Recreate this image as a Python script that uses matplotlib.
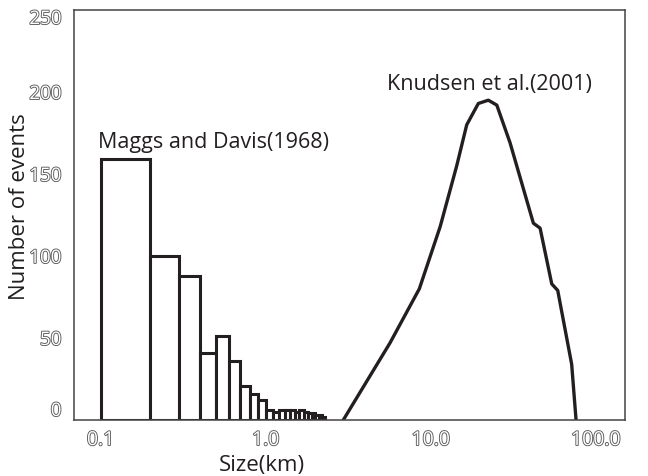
import numpy as np
import matplotlib.pyplot as plt
import matplotlib.patheffects as pe

# Maggs and Davis (1968) histogram: bin edges (km) and counts
bin_edges = [0.1, 0.2, 0.3, 0.4, 0.5, 0.6, 0.7, 0.8, 0.9, 1.0,
             1.1, 1.2, 1.3, 1.4, 1.5, 1.6, 1.7, 1.8, 1.9, 2.0, 2.1, 2.2, 2.3]
counts = [159, 100, 88, 41, 51, 36, 21, 16, 12,
          6, 5, 6, 6, 6, 5, 6, 5, 4, 4, 3, 3, 2]

# Knudsen et al. (2001) curve
knud_size = [2.95, 5.66, 8.52, 11.4, 14.35, 16.5, 19.4, 22.3, 25.1, 30.2,
             41.8, 45.9, 54.0, 58.7, 71.3, 75.8]
knud_events = [0, 47, 80, 118, 155, 180, 193, 195, 192, 169,
               120, 117, 83, 79, 34, 0]

x_ticks = [0.1, 1.0, 10.0, 100.0]
x_ticklabels = ['0.1', '1.0', '10.0', '100.0']
y_ticks = [0, 50, 100, 150, 200, 250]

ink = '#231f20'
plt.rcParams['font.family'] = ['Open Sans', 'DejaVu Sans']

fig = plt.figure(figsize=(6.48, 4.77), dpi=100)
ax = fig.add_axes([74 / 648, 56 / 477, 551 / 648, 410 / 477])

edges = np.array(bin_edges)
ax.bar(edges[:-1], counts, width=np.diff(edges), align='edge',
       facecolor='white', edgecolor=ink, linewidth=2.2, zorder=2)
ax.plot(knud_size, knud_events, color=ink, linewidth=2.4,
        solid_joinstyle='round', zorder=3)

ax.set_xscale('log')
ax.set_xlim(0.069, 150)
ax.set_ylim(0, 250)
ax.set_xticks(x_ticks)
ax.set_xticklabels(x_ticklabels)
ax.minorticks_off()
ax.set_yticks(y_ticks)
ax.tick_params(axis='y', length=0, labelsize=13.5, pad=9)
ax.tick_params(axis='x', length=0, labelsize=14, pad=8)

outline = [pe.withStroke(linewidth=1.3, foreground='#5a5a5a')]
for lab in ax.get_xticklabels() + ax.get_yticklabels():
    lab.set_color('white')
    lab.set_path_effects(outline)
ylabs = ax.get_yticklabels()
ylabs[0].set_va('bottom')
ylabs[-1].set_va('top')

for s in ax.spines.values():
    s.set_color('#444444')
    s.set_linewidth(1.1)
    s.set_zorder(4)

ax.text(0.0964, 170, 'Maggs and Davis(1968)', fontsize=15.5, color=ink,
        ha='left', va='center')
ax.text(22.5, 205, 'Knudsen et al.(2001)', fontsize=15.5, color=ink,
        ha='center', va='center')

fig.text(262 / 648, 1 - 466 / 477, 'Size(km)', fontsize=16, color=ink,
         ha='center', va='center')
fig.text(20 / 648, 1 - 207 / 477, 'Number of events', fontsize=16,
         color=ink, ha='center', va='center', rotation=90)

fig.savefig('out.png', dpi=100)
